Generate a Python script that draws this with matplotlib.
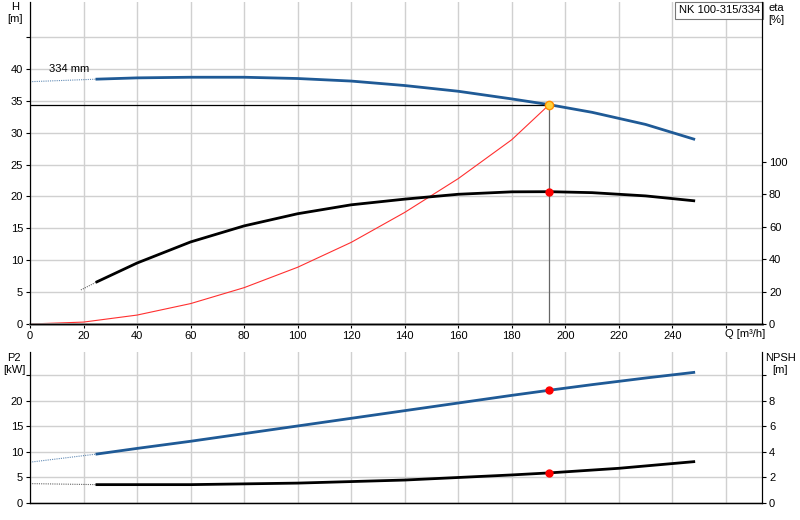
import matplotlib
matplotlib.use("Agg")
import matplotlib.pyplot as plt

# Data
q_h = [25, 40, 60, 80, 100, 120, 140, 160, 180, 194, 210, 230, 248]
h_vals = [38.4, 38.6, 38.7, 38.7, 38.5, 38.1, 37.4, 36.5, 35.3, 34.4, 33.2, 31.3, 29.0]
h_ext_q = [0, 25]; h_ext = [38.0, 38.4]
q_eta = [25, 40, 60, 80, 100, 120, 140, 160, 180, 194, 210, 230, 248]
eta_vals = [26, 37.6, 50.6, 60.5, 68, 73.5, 77, 80, 81.5, 81.6, 81, 79, 76]
eta_ext_q = [19, 25]; eta_ext = [21, 26]
q_sys = [0, 20, 40, 60, 80, 100, 120, 140, 160, 180, 194]
h_sys = [0, 0.3, 1.4, 3.2, 5.7, 8.9, 12.8, 17.5, 22.8, 28.9, 34.4]
q_p2 = [25, 40, 60, 80, 100, 120, 140, 160, 180, 194, 210, 230, 248]
p2_vals = [9.6, 10.7, 12.1, 13.6, 15.1, 16.6, 18.1, 19.6, 21.1, 22.1, 23.2, 24.5, 25.6]
p2_ext_q = [0, 25]; p2_ext = [8.0, 9.6]
q_npsh = [25, 60, 100, 140, 180, 194, 220, 248]
npsh_vals = [1.44, 1.44, 1.56, 1.8, 2.2, 2.36, 2.72, 3.24]
npsh_ext_q = [0, 25]; npsh_ext = [1.52, 1.44]
duty_q, duty_h, duty_eta, duty_p2, duty_npsh = 194, 34.4, 81.5, 22.1, 2.36
x_ticks = list(range(0, 260, 20))

BLUE = "#1f5a96"
plt.rcParams['font.family'] = ['Liberation Sans', 'DejaVu Sans']
plt.rcParams['font.size'] = 8
fig = plt.figure(figsize=(8, 5.2), dpi=100)
XMAX = 273.5

def style(ax, ymax, yt, ylab):
    ax.set_xlim(0, XMAX)
    ax.set_xticks(range(0, 274, 20))
    ax.set_ylim(0, ymax)
    ax.set_yticks(yt)
    ax.set_yticklabels(ylab)
    ax.grid(True, color="#d0d0d0", lw=1)
    ax.set_axisbelow(True)
    ax.spines["top"].set_visible(False)
    ax.spines["bottom"].set_color("#888888")
    ax.spines["bottom"].set_linewidth(2)
    ax.tick_params(length=3, pad=2)

ax1 = fig.add_axes([30/800, 1-324/520, 732/800, 322/520])
style(ax1, 50.5, range(0, 50, 5), [str(v) for v in range(0, 45, 5)] + [""])
ax1.set_xticklabels([str(v) for v in x_ticks] + [""])
ax1.plot(h_ext_q, h_ext, ls=(0, (1, 1)), color=BLUE, lw=0.8, alpha=0.7)
ax1.plot(q_h, h_vals, color=BLUE, lw=2)
ax1.plot(q_sys, h_sys, color="#ff3030", lw=0.8)
ax1.plot([0, duty_q], [duty_h, duty_h], color="black", lw=0.9)
ax1.plot([duty_q, duty_q], [0, duty_h], color="#666666", lw=0.9)
ax1.plot(duty_q, duty_h, 'o', ms=6, mfc="#ffd23c", mec="#ff8c00", mew=1, zorder=5)
ax1.text(7, 39.6, "334 mm", fontsize=8)
ax1.text(0.997, 0.99, "NK 100-315/334", transform=ax1.transAxes, ha="right", va="top",
         fontsize=8, bbox=dict(boxstyle="square,pad=0.3", fc="white", ec="#777777", lw=0.8))
ax1e = ax1.twinx()
ax1e.set_ylim(0, 50.5 * 6.37 / 1.62)
ax1e.set_yticks(range(0, 120, 20))
ax1e.set_yticklabels([str(v) for v in range(0, 120, 20)])
ax1e.spines["top"].set_visible(False)
ax1e.tick_params(length=3, pad=2)
ax1e.plot(eta_ext_q, eta_ext, ls=(0, (1, 1)), color="black", lw=0.8, alpha=0.6)
ax1e.plot(q_eta, eta_vals, color="black", lw=2)
ax1e.plot(duty_q, duty_eta, 'o', ms=5, color="red", zorder=5)
fig.text(15/800, 1-13/520, "H\n[m]", ha="center", va="center", fontsize=8)
fig.text(776/800, 1-14/520, "eta\n[%]", ha="center", va="center", fontsize=8)
fig.text(745/800, 1-334/520, "Q [m³/h]", ha="center", va="center", fontsize=8)

ax2 = fig.add_axes([30/800, 1-503/520, 732/800, 151/520])
style(ax2, 29.6, range(0, 30, 5), [str(v) for v in range(0, 25, 5)] + [""])
ax2.set_xticklabels([])
ax2.tick_params(axis="x", length=0)
ax2.spines["bottom"].set_color("black")
ax2.spines["bottom"].set_linewidth(1)
ax2.plot(p2_ext_q, p2_ext, ls=(0, (1, 1)), color=BLUE, lw=0.8, alpha=0.7)
ax2.plot(q_p2, p2_vals, color=BLUE, lw=2)
ax2.plot(duty_q, duty_p2, 'o', ms=5, color="red", zorder=5)
ax2n = ax2.twinx()
ax2n.set_ylim(0, 29.6 * 0.4)
ax2n.set_yticks(range(0, 12, 2))
ax2n.set_yticklabels([str(v) for v in range(0, 10, 2)] + [""])
ax2n.spines["top"].set_visible(False)
ax2n.tick_params(length=3, pad=2)
ax2n.plot(npsh_ext_q, npsh_ext, ls=(0, (1, 1)), color="black", lw=0.8, alpha=0.6)
ax2n.plot(q_npsh, npsh_vals, color="black", lw=2)
ax2n.plot(duty_q, duty_npsh, 'o', ms=5, color="red", zorder=5)
fig.text(14/800, 1-364/520, "P2\n[kW]", ha="center", va="center", fontsize=8)
fig.text(780/800, 1-364/520, "NPSH\n[m]", ha="center", va="center", fontsize=8)

fig.savefig("out.png", dpi=100)
